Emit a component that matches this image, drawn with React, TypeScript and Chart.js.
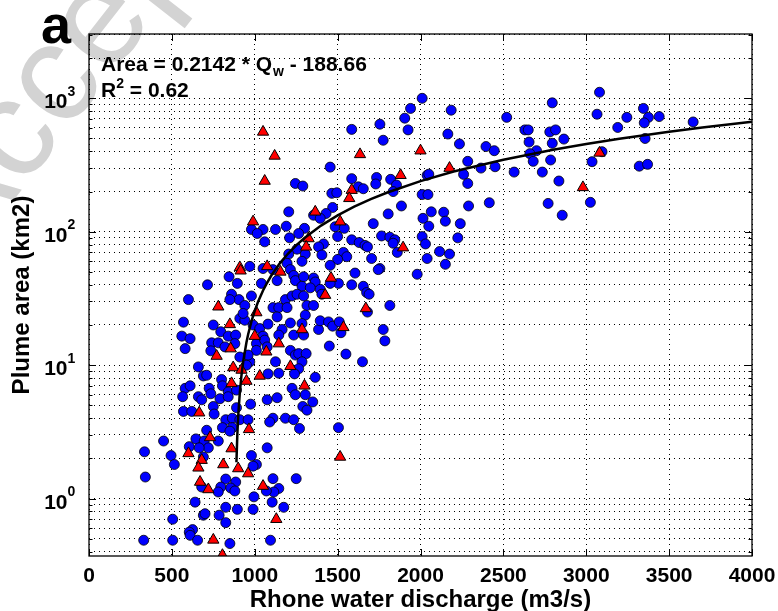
import { useEffect, useRef } from 'react'
import { Chart, registerables } from 'chart.js'

Chart.register(...registerables)

const FONT = '"Liberation Sans", Arial, Helvetica, sans-serif'

// axes
const X_MIN = 0
const X_MAX = 4000
const X_STEP = 500
const Y_MIN = 0.371
const Y_MAX = 3035
const Y_MAJOR = [1, 10, 100, 1000]
const Y_MAJOR_EXP = ['0', '1', '2', '3']
const Y_GRID = [
  0.4, 0.5, 0.6, 0.7, 0.8, 0.9,
  1, 2, 3, 4, 5, 6, 7, 8, 9,
  10, 20, 30, 40, 50, 60, 70, 80, 90,
  100, 200, 300, 400, 500, 600, 700, 800, 900,
  1000, 2000, 3000,
]

const X_TITLE = 'Rhone water discharge (m3/s)'
const Y_TITLE = 'Plume area (km2)'
const PANEL = 'a'
const FIT_TEXT = ['Area = 0.2142 * Q', 'w', ' - 188.66']
const R2_TEXT = ['R', '2', ' = 0.62']
const WATERMARK = 'Accepted Manuscript'

// [discharge m3/s, plume area km2] — blue circles
const BLUE: [number, number][] = [
  [2010, 1000], [1940, 840], [1905, 710], [1925, 580], [1755, 640], [1585, 585], [1775, 485], [1455, 305],
  [1585, 250], [1735, 255], [1730, 228], [1820, 247], [1855, 224], [1835, 200], [1625, 217], [1655, 210],
  [2040, 265], [2010, 190], [2045, 190], [1245, 230], [1290, 220], [1465, 194], [1495, 196], [1470, 152],
  [1430, 137], [1355, 133], [1395, 126], [1885, 156], [1805, 136], [1715, 115], [2015, 126], [2050, 110],
  [1205, 141], [1190, 110], [1125, 104], [1050, 104], [980, 104], [1015, 97], [1060, 84], [1300, 106],
  [1265, 97], [1210, 90], [1485, 109], [1540, 106], [1500, 92], [1585, 87], [1630, 83], [1665, 79],
  [1680, 77], [1765, 93], [1815, 91], [1845, 87], [1835, 82], [1860, 70], [2010, 92], [2030, 81],
  [1255, 74], [1305, 68], [1415, 81], [1385, 77], [1405, 67], [1535, 70], [1555, 65], [1500, 62],
  [1455, 56], [1705, 63], [1755, 53], [1745, 52], [2040, 63], [1980, 48], [1205, 68], [1195, 58],
  [1285, 60], [1215, 52], [1235, 47], [1245, 43], [1295, 46], [1355, 45], [1365, 42], [1285, 39],
  [1335, 38], [1395, 37], [1505, 41], [1605, 49], [1585, 40], [1655, 39], [1675, 35], [1690, 34],
  [1455, 41], [1405, 34], [970, 55], [1050, 53], [1110, 52], [1135, 43], [1040, 41], [845, 46],
  [895, 41], [715, 40], [860, 34], [905, 31], [850, 31], [940, 28], [980, 33], [600, 31],
  [1185, 31], [1225, 33], [1255, 34], [1295, 33], [1315, 28], [1355, 28], [1110, 27], [1145, 27],
  [1195, 27], [1815, 28],
  [2185, 815], [2520, 720], [2795, 925], [3080, 1110], [3065, 760], [3345, 840], [3375, 720], [3245, 720],
  [3440, 730], [3350, 655], [3645, 665], [3190, 605], [3355, 500], [2165, 540], [2235, 455], [2630, 580],
  [2650, 580], [2780, 560], [2815, 580], [2865, 495], [2655, 470], [2795, 460], [2395, 435], [2445, 405],
  [2700, 405], [2660, 385], [2285, 337], [2680, 337], [2785, 345], [3035, 335], [3095, 398], [3320, 310],
  [3370, 320], [2365, 300], [2450, 307], [2565, 280], [2735, 280], [2050, 270], [2260, 269], [2285, 230],
  [2835, 240], [2290, 156], [2415, 165], [2770, 163], [3025, 166], [2855, 133], [2065, 141], [2140, 140],
  [2150, 120], [2240, 115], [2225, 90], [2115, 71], [2175, 68], [2150, 57],
  [570, 21], [750, 20], [560, 16.5], [610, 15.8], [580, 13.3], [795, 17.8], [840, 16.5], [885, 16.8],
  [740, 14.7], [780, 14.7], [880, 14.5], [735, 12.8], [820, 13.7], [910, 22.4], [940, 21.7], [930, 24.4],
  [990, 20], [1030, 18.8], [1080, 20.3], [1050, 16.5], [1010, 14.5], [1060, 15.4], [1010, 12.9], [1075, 13.7],
  [1135, 23], [1215, 20.7], [1165, 18.5], [1145, 16.8], [1235, 16.8], [1305, 23.7], [1285, 20.5], [1295, 16.8],
  [1385, 18.5], [1395, 21.5], [1445, 21.1], [1470, 19.6], [1510, 21.1], [1520, 17.5], [1450, 13.9], [1550, 12.1],
  [1650, 10.6], [1680, 25], [1775, 18.5], [1785, 15.2], [1215, 12.9], [1245, 11.9], [1265, 12.2], [1310, 12.2],
  [1285, 10.6], [1265, 9.4], [1240, 8.6], [1125, 10.6], [1145, 8.7], [1080, 8.6], [970, 10.6], [950, 10],
  [960, 11.9], [910, 11.5], [660, 9.7], [690, 8.3], [710, 8.4], [800, 7.8], [805, 7.0], [580, 6.7],
  [610, 7.0], [565, 5.8], [725, 6.7], [735, 6.1], [790, 5.6], [840, 6.3], [840, 5.8], [890, 6.5],
  [660, 5.8], [680, 5.5], [750, 4.9], [570, 4.5], [620, 4.5], [755, 4.3], [890, 4.8], [975, 5.1],
  [1225, 6.7], [1245, 6.0], [1305, 6.0], [1350, 5.3], [1290, 4.9], [1315, 4.6], [1365, 8.1], [1075, 5.5],
  [1135, 5.7], [1110, 4.0], [1090, 3.75], [1185, 4.0], [1235, 3.9], [1270, 3.35], [1505, 3.4], [825, 3.9],
  [865, 4.0], [910, 3.9], [960, 3.9], [805, 3.4], [865, 3.4], [850, 3.2], [710, 3.25], [450, 2.7],
  [645, 2.8], [695, 2.7], [720, 2.4], [605, 2.45], [665, 2.4], [780, 2.7], [690, 2.05], [495, 2.1],
  [515, 1.8], [1075, 2.4], [980, 2.1], [1010, 1.8], [990, 1.75], [825, 1.4], [885, 1.33], [795, 1.22],
  [855, 1.2], [880, 1.14], [780, 1.12], [680, 1.22], [1250, 1.41], [1110, 1.41], [1145, 1.19], [1115, 1.12],
  [1070, 1.14], [995, 1.03], [640, 0.94], [1105, 0.94], [1175, 0.86], [825, 0.86], [895, 0.83], [990, 0.83],
  [690, 0.75], [700, 0.77], [785, 0.75], [505, 0.7], [825, 0.66], [625, 0.585], [605, 0.56], [610, 0.53],
  [505, 0.487], [655, 0.487], [850, 0.46], [1095, 0.487], [335, 2.24], [340, 1.45], [330, 0.487],
]

// red triangles
const RED: [number, number][] = [
  [1050, 560], [1120, 370], [1060, 240], [1635, 380], [2000, 405], [1880, 265], [1585, 205], [1570, 178],
  [1365, 141], [1515, 119], [990, 119], [1325, 89], [1310, 77], [1895, 76], [910, 54], [915, 51],
  [1075, 55], [1155, 50], [1460, 45], [1425, 33.5], [780, 27.4], [1670, 26.6], [2175, 300], [3080, 390],
  [2980, 215], [1010, 24.8], [850, 20.2], [1000, 16.5], [1285, 18.5], [1535, 19.2], [1145, 14.5], [855, 13.3],
  [1070, 12.6], [770, 11.7], [870, 9.6], [920, 9.2], [950, 7.6], [1030, 8.3], [860, 7.3], [1215, 9.8],
  [1300, 7.0], [665, 4.4], [965, 3.3], [730, 2.87], [860, 2.37], [600, 2.18], [680, 1.94], [660, 1.7],
  [810, 1.8], [900, 1.68], [960, 1.54], [1515, 2.05], [670, 1.33], [720, 1.17], [1050, 1.24], [1130, 0.7],
  [750, 0.49], [805, 0.376],
]

// fitted curve, Area = 0.2142 * Qw - 188.66
const FIT: [number, number][] = [
  [889.5, 1.87], [895, 3.05], [900, 4.12], [910, 6.26], [920, 8.4], [930, 10.55], [950, 14.83], [960, 16.97],
  [980, 21.26], [1000, 25.54], [1020, 29.82], [1050, 36.25], [1070, 40.53], [1100, 46.96], [1150, 57.67],
  [1200, 68.38], [1250, 79.09], [1300, 89.8], [1400, 111.22], [1500, 132.64], [1600, 154.06], [1700, 175.48],
  [1800, 196.9], [2000, 239.74], [2200, 282.58], [2500, 346.84], [2800, 411.1], [3000, 453.94], [3200, 496.78],
  [3500, 561.04], [3700, 603.88], [4000, 668.14],
]

const toXY = (pts: [number, number][]) => pts.map(([x, y]) => ({ x, y }))

const decor = {
  id: 'decor',
  beforeDraw(chart: Chart) {
    const { ctx } = chart
    ctx.save()
    ctx.translate(-35.5, 263)
    ctx.rotate(-52 * Math.PI / 180)
    ctx.font = `140px ${FONT}`
    ctx.fillStyle = '#d3d3d3'
    ctx.textBaseline = 'alphabetic'
    ctx.fillText(WATERMARK, 0, 0)
    ctx.restore()
  },
  afterDraw(chart: Chart) {
    const { ctx, chartArea: { left, right, top, bottom } } = chart
    const xs = chart.scales.x
    const ys = chart.scales.y
    ctx.save()
    ctx.strokeStyle = '#000'
    ctx.lineWidth = 1
    ctx.beginPath()
    for (let v = X_MIN; v <= X_MAX; v += X_STEP) {
      const px = Math.round(xs.getPixelForValue(v)) + 0.5
      ctx.moveTo(px, bottom); ctx.lineTo(px, bottom - 7)
      ctx.moveTo(px, top); ctx.lineTo(px, top + 7)
    }
    Y_GRID.forEach(v => {
      const py = Math.round(ys.getPixelForValue(v)) + 0.5
      const len = Y_MAJOR.includes(v) ? 7 : 3.5
      ctx.moveTo(left, py); ctx.lineTo(left + len, py)
      ctx.moveTo(right, py); ctx.lineTo(right - len, py)
    })
    ctx.stroke()
    ctx.lineWidth = 1.3
    ctx.strokeRect(left, top, right - left, bottom - top)

    // y tick labels 10^n
    ctx.fillStyle = '#000'
    ctx.textBaseline = 'alphabetic'
    Y_MAJOR.forEach((v, i) => {
      const py = ys.getPixelForValue(v)
      ctx.font = `bold 21px ${FONT}`
      ctx.textAlign = 'right'
      ctx.fillText('10', left - 21.5, py + 10)
      ctx.font = `bold 14px ${FONT}`
      ctx.textAlign = 'left'
      ctx.fillText(Y_MAJOR_EXP[i], left - 21.5, py - 2.5)
    })

    // equation
    ctx.textAlign = 'left'
    let tx = left + 12
    ctx.font = `bold 21px ${FONT}`
    ctx.fillText(FIT_TEXT[0], tx, top + 36.5)
    tx += ctx.measureText(FIT_TEXT[0]).width + 1
    ctx.font = `bold 14px ${FONT}`
    ctx.fillText(FIT_TEXT[1], tx, top + 41.5)
    tx += ctx.measureText(FIT_TEXT[1]).width
    ctx.font = `bold 21px ${FONT}`
    ctx.fillText(FIT_TEXT[2], tx, top + 36.5)

    tx = left + 12
    ctx.fillText(R2_TEXT[0], tx, top + 63)
    tx += ctx.measureText(R2_TEXT[0]).width
    ctx.font = `bold 14px ${FONT}`
    ctx.fillText(R2_TEXT[1], tx, top + 54)
    tx += ctx.measureText(R2_TEXT[1]).width
    ctx.font = `bold 21px ${FONT}`
    ctx.fillText(R2_TEXT[2], tx, top + 63)

    // panel letter
    ctx.font = `bold 54px ${FONT}`
    ctx.fillText(PANEL, left - 48, top + 9)
    ctx.restore()
  },
}

export default function App() {
  const ref = useRef<HTMLCanvasElement>(null)

  useEffect(() => {
    if (!ref.current) return
    const gridDash = { display: false, dash: [1, 4] }
    const chart = new Chart(ref.current, {
      type: 'scatter',
      data: {
        datasets: [
          {
            label: 'fit',
            data: toXY(FIT),
            showLine: true,
            borderColor: '#000', borderWidth: 2.5,
            pointRadius: 0, tension: 0,
          },
          {
            label: 'triangles',
            data: toXY(RED),
            pointStyle: 'triangle', pointRadius: 6.5,
            backgroundColor: '#ff0000', borderColor: '#000', borderWidth: 1,
          },
          {
            label: 'circles',
            data: toXY(BLUE),
            pointStyle: 'circle', pointRadius: 5,
            backgroundColor: '#0000ff', borderColor: '#000', borderWidth: 0.8,
          },
        ],
      },
      options: {
        responsive: true, maintainAspectRatio: false,
        animation: false,
        events: [],
        layout: { padding: { top: 34, right: 26, left: 0, bottom: 0 } },
        plugins: { legend: { display: false }, tooltip: { enabled: false } },
        scales: {
          x: {
            type: 'linear', min: X_MIN, max: X_MAX,
            grid: { color: '#000', lineWidth: 1, drawTicks: false },
            border: gridDash,
            ticks: {
              stepSize: X_STEP, padding: 7.5, color: '#000', maxRotation: 0,
              font: { family: FONT, size: 21, weight: 'bold' },
              callback: (v: any) => String(v),
            },
            title: {
              display: true, text: X_TITLE, color: '#000',
              font: { family: FONT, size: 24, weight: 'bold', lineHeight: 1 },
              padding: { top: 0, bottom: -1 },
            },
            afterFit: (s: any) => { s.height = 55; s.paddingLeft = 0; s.paddingRight = 0 },
          },
          y: {
            type: 'logarithmic', min: Y_MIN, max: Y_MAX,
            grid: { color: '#000', lineWidth: 1, drawTicks: false },
            border: gridDash,
            ticks: { display: false, autoSkip: false },
            afterBuildTicks: (s: any) => { s.ticks = Y_GRID.map(v => ({ value: v })) },
            title: {
              display: true, text: Y_TITLE, color: '#000',
              font: { family: FONT, size: 24, weight: 'bold', lineHeight: 1 },
              padding: { top: 10.8, bottom: 0 },
            },
            afterFit: (s: any) => { s.width = 89; s.paddingTop = 0; s.paddingBottom = 0 },
          },
        },
      },
      plugins: [decor],
    } as any)
    return () => chart.destroy()
  }, [])

  return (
    <div style={{ position: 'fixed', left: 0, top: 0, width: 778, height: 611, background: '#fff' }}>
      <canvas ref={ref} role="img" aria-label="Plume area vs Rhone water discharge" />
    </div>
  )
}
